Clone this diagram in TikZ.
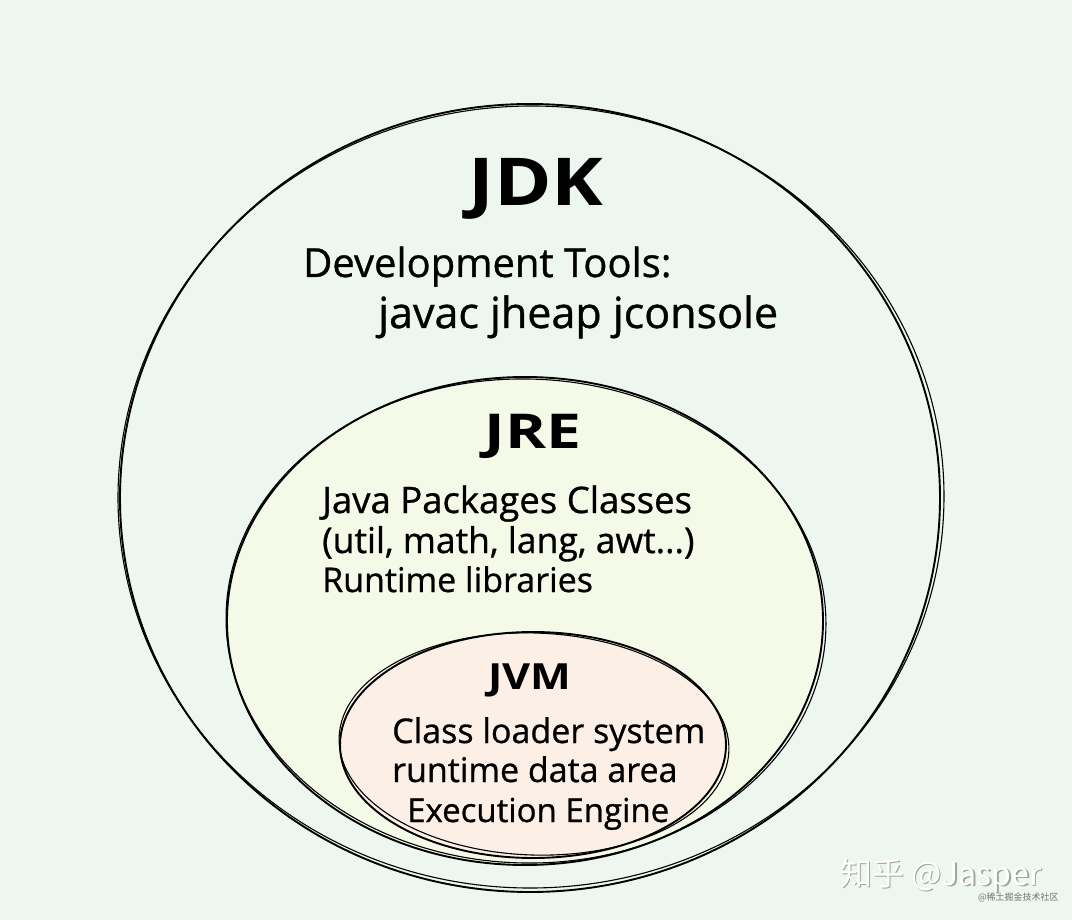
\documentclass[tikz,border=0pt]{standalone}
\usepackage{fontspec}
\setmainfont{Open Sans}
\newfontfamily\handfont[FakeBold=0.8]{Open Sans}
\newfontfamily\cjkfont{Noto Sans CJK SC}
\usetikzlibrary{shapes.geometric}
\definecolor{bgc}{RGB}{237,247,239}
\definecolor{jrec}{RGB}{245,249,231}
\definecolor{jvmc}{RGB}{251,239,230}
\definecolor{wmgray}{RGB}{160,165,160}
\tikzset{
  ring/.style={ellipse, draw=black, line width=1.9pt, inner sep=0pt},
  sketch/.style={draw=black, line width=1.1pt},
  title/.style={font=\bfseries\fontsize{#1}{#1}\selectfont, anchor=base, inner sep=0pt},
  body/.style={font=\handfont\fontsize{#1}{#1}\selectfont, anchor=base west, inner sep=0pt}
}
\begin{document}
\begin{tikzpicture}[x=1pt,y=-1pt]
\fill[bgc] (0,0) rectangle (1072,920);
\useasboundingbox (0,0) rectangle (1072,920);
% JDK
\node[ring, minimum width=820pt, minimum height=788pt] (jdk) at (530,498) {};
\draw[sketch] (531,497) ellipse[x radius=413pt, y radius=391pt, rotate=1];
% JRE
\node[ring, fill=jrec, minimum width=596pt, minimum height=488pt] (jre) at (525,621) {};
\draw[sketch] (526,621) ellipse[x radius=300pt, y radius=242pt, rotate=-1.5];
% JVM
\node[ring, fill=jvmc, minimum width=386pt, minimum height=226pt] (jvm) at (533,745) {};
\draw[sketch] (534,744) ellipse[x radius=195pt, y radius=111pt, rotate=-2];
% texts
\node[title=66] (jdkt) at (536,206) {\scalebox{1.18}[1]{JDK}};
\node[body=40] (dev) at (303,277) {Development Tools:};
\node[body=43] (tools) at (378,328) {javac jheap jconsole};
\node[title=48] (jret) at (533,448) {\scalebox{1.3}[1]{JRE}};
\node[body=36.5] (pk1) at (322,513) {Java Packages Classes};
\node[body=35.5] (pk2) at (322,553) {(util, math, lang, awt...)};
\node[body=34] (pk3) at (322,592) {Runtime libraries};
\node[title=36] (jvmt) at (530,689) {\scalebox{1.2}[1]{JVM}};
\node[body=34] (vm1) at (392,743) {Class loader system};
\node[body=34] (vm2) at (392,782) {runtime data area};
\node[body=33] (vm3) at (407,822) {Execution Engine};
% watermark
\node[font=\cjkfont\fontsize{32}{32}\selectfont, text=wmgray, anchor=base west, inner sep=0pt] (wms) at (841.5,886.5) {知乎 @Jasper};
\node[font=\cjkfont\fontsize{32}{32}\selectfont, text=white, anchor=base west, inner sep=0pt] (wm) at (840,885) {知乎 @Jasper};
\node[font=\cjkfont\fontsize{9}{9}\selectfont, text=wmgray!70!black, anchor=base west, inner sep=0pt] (wm2) at (978,900) {@稀土掘金技术社区};
\end{tikzpicture}
\end{document}
